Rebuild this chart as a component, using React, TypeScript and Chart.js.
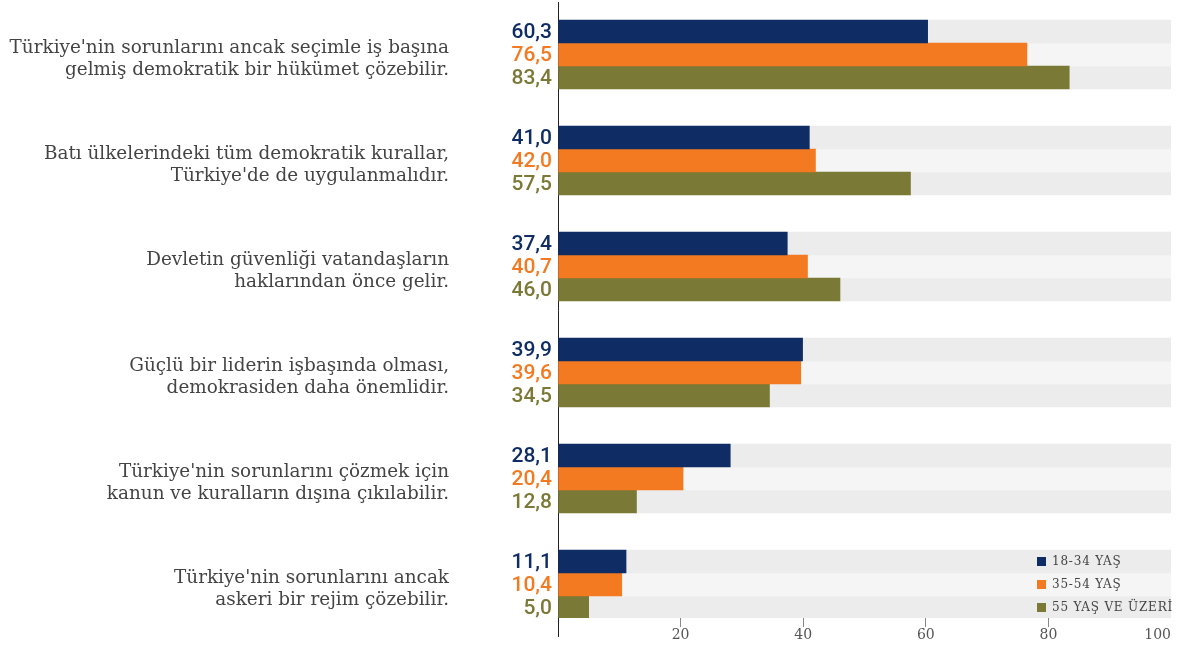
import React, { useEffect, useRef } from 'react';
import { Chart, registerables } from 'chart.js';

Chart.register(...registerables);

const categories: string[][] = [
  ["Türkiye'nin sorunlarını ancak seçimle iş başına", "gelmiş demokratik bir hükümet çözebilir."],
  ["Batı ülkelerindeki tüm demokratik kurallar,", "Türkiye'de de uygulanmalıdır."],
  ["Devletin güvenliği vatandaşların", "haklarından önce gelir."],
  ["Güçlü bir liderin işbaşında olması,", "demokrasiden daha önemlidir."],
  ["Türkiye'nin sorunlarını çözmek için", "kanun ve kuralların dışına çıkılabilir."],
  ["Türkiye'nin sorunlarını ancak", "askeri bir rejim çözebilir."],
];

const seriesNames = ['18-34 YAŞ', '35-54 YAŞ', '55 YAŞ VE ÜZERİ'];
const age18to34 = [60.3, 41.0, 37.4, 39.9, 28.1, 11.1];
const age35to54 = [76.5, 42.0, 40.7, 39.6, 20.4, 10.4];
const age55plus = [83.4, 57.5, 46.0, 34.5, 12.8, 5.0];
const xTickStep = 20;
const scaleMax = 100;

const series = [age18to34, age35to54, age55plus];
const colors = ['#0f2d64', '#f47a21', '#7a7935'];
const textColors = ['#0f2d64', '#f47a21', '#7a7935'];
const bgColors = ['#ececec', '#f5f5f5', '#ececec'];

const fmt = (v: number) => v.toFixed(1).replace('.', ',');

export default function App() {
  const ref = useRef<HTMLCanvasElement | null>(null);

  useEffect(() => {
    if (!ref.current) return;

    const datasets: any[] = [
      ...series.map((vals, i) => ({
        label: seriesNames[i],
        data: vals.map((v, j) => ({ x: v, y: j })),
        backgroundColor: colors[i],
        stack: 's' + i,
        barThickness: 23,
        borderWidth: 0,
      })),
      ...series.map((vals, i) => ({
        label: 'bg' + i,
        data: vals.map((v, j) => ({ x: scaleMax - v, y: j })),
        backgroundColor: bgColors[i],
        stack: 's' + i,
        barThickness: 23,
        borderWidth: 0,
      })),
    ];

    const overlay = {
      id: 'overlay',
      afterDatasetsDraw(chart: any) {
        const { ctx, chartArea } = chart;
        ctx.save();
        ctx.font = '500 21px Roboto';
        ctx.textAlign = 'right';
        ctx.textBaseline = 'middle';
        for (let i = 0; i < 3; i++) {
          const meta = chart.getDatasetMeta(i);
          meta.data.forEach((bar: any, j: number) => {
            ctx.fillStyle = textColors[i];
            ctx.fillText(fmt(series[i][j]), chartArea.left - 6, bar.y + 1);
          });
        }
        // legend
        ctx.textAlign = 'left';
        ctx.font = '12px "DejaVu Serif"';
        try { (ctx as any).letterSpacing = '0.8px'; } catch (e) {}
        const last = categories.length - 1;
        for (let i = 0; i < 3; i++) {
          const bar = chart.getDatasetMeta(i).data[last];
          const y = bar.y;
          ctx.fillStyle = colors[i];
          ctx.fillRect(1037, Math.round(y - 4.5), 9, 9);
          ctx.fillStyle = '#444';
          ctx.fillText(seriesNames[i], 1052, y + 0.5);
        }
        try { (ctx as any).letterSpacing = '0px'; } catch (e) {}
        ctx.restore();
      },
      afterDraw(chart: any) {
        const { ctx, chartArea } = chart;
        const x = Math.round(chart.scales.x.getPixelForValue(0)) + 0.5;
        ctx.save();
        ctx.strokeStyle = '#222';
        ctx.lineWidth = 1;
        ctx.beginPath();
        ctx.moveTo(x, chartArea.bottom);
        ctx.lineTo(x, chartArea.bottom + 19);
        ctx.stroke();
        ctx.restore();
      },
    };

    const chart = new Chart(ref.current, {
      type: 'bar',
      data: { datasets },
      options: {
        indexAxis: 'y',
        animation: false,
        responsive: true,
        maintainAspectRatio: false,
        layout: { padding: { top: 2, right: 8, left: 0, bottom: 0 } },
        plugins: {
          legend: { display: false },
          tooltip: { enabled: false },
        },
        scales: {
          x: {
            type: 'linear',
            stacked: true,
            min: 0,
            max: scaleMax,
            offset: false,
            border: { display: false },
            grid: {
              drawOnChartArea: false,
              drawTicks: true,
              tickLength: 9,
              tickWidth: 1,
              tickColor: (c: any) =>
                c.tick && c.tick.value === 0 ? '#222' : c.tick && c.tick.value === scaleMax ? 'rgba(0,0,0,0)' : '#888',
            },
            ticks: {
              stepSize: xTickStep,
              autoSkip: false,
              maxRotation: 0,
              padding: 0,
              color: '#555',
              font: { family: 'DejaVu Serif', size: 14 },
              callback: (v: any) =>
                v === 0 ? '' : v === scaleMax ? String(v) + '\u2007\u2007\u2007' : String(v),
            },
            afterFit: (s: any) => {
              s.height = 28;
              s.paddingLeft = 0;
              s.paddingRight = 0;
            },
          },
          y: {
            type: 'linear',
            reverse: true,
            offset: false,
            min: -0.4953,
            max: 5.316,
            border: { display: true, color: '#222', width: 1 },
            grid: { display: false, drawTicks: false, offset: false },
            ticks: {
              stepSize: 1,
              includeBounds: false,
              autoSkip: false,
              padding: 109,
              labelOffset: 4.5,
              color: '#444',
              font: { family: 'DejaVu Serif', size: 18.4, lineHeight: 1.2 },
              callback: (v: any) => (Number.isInteger(v) && categories[v] ? categories[v] : ''),
            },
            afterFit: (s: any) => {
              s.width = 558;
              s.paddingTop = 0;
              s.paddingBottom = 0;
            },
          },
        },
      } as any,
      plugins: [overlay],
    });

    return () => chart.destroy();
  }, []);

  return (
    <div style={{ position: 'absolute', left: 0, top: 0, width: 1179, height: 646 }}>
      <canvas ref={ref} />
    </div>
  );
}
